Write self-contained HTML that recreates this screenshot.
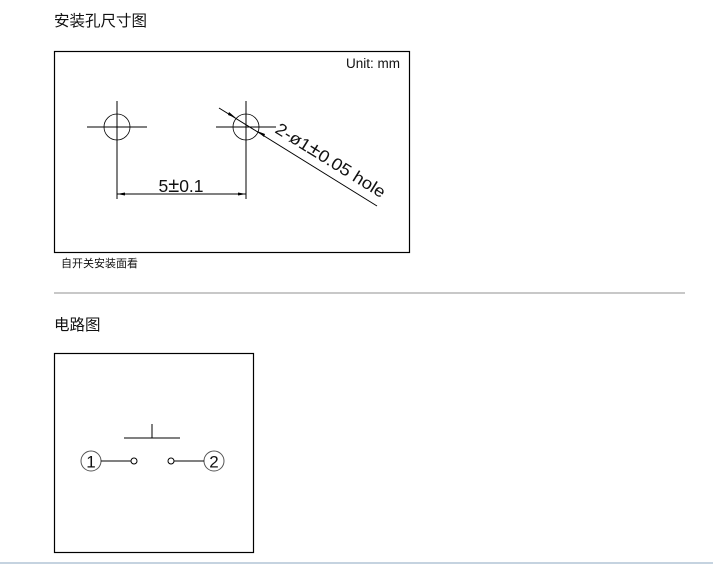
<!DOCTYPE html>
<html><head><meta charset="utf-8"><style>
html,body{margin:0;padding:0;background:#fff;width:713px;height:565px;overflow:hidden;position:relative}
.t{position:absolute;font-family:"Liberation Sans","Noto Sans CJK SC",sans-serif;color:#111;white-space:nowrap}
</style></head><body>
<div class="t" style="left:54px;top:12px;font-size:15.5px;line-height:20px">安装孔尺寸图</div>
<div class="t" style="left:61px;top:257px;font-size:11px;line-height:14px">自开关安装面看</div>
<div style="position:absolute;left:54px;top:292px;width:631px;height:2px;background:#c8c8c8"></div>
<div class="t" style="left:54px;top:316px;font-size:15.5px;line-height:20px">电路图</div>
<div style="position:absolute;left:0;top:562px;width:713px;height:2px;background:#c5d3e0"></div>
<svg width="713" height="565" style="position:absolute;left:0;top:0" xmlns="http://www.w3.org/2000/svg">
<g fill="none" stroke="#000">
<rect x="54.5" y="51.5" width="355" height="201" stroke-width="1.2"/>
<circle cx="117" cy="127" r="13" stroke-width="0.8"/>
<circle cx="246" cy="127" r="13" stroke-width="0.8"/>
<line x1="87" y1="127" x2="147" y2="127"/>
<line x1="117" y1="101" x2="117" y2="199"/>
<line x1="216" y1="127" x2="276" y2="127"/>
<line x1="246" y1="101" x2="246" y2="199"/>
<line x1="117" y1="194" x2="246" y2="194"/>
<line x1="219" y1="108" x2="377" y2="206"/>
<rect x="54.5" y="353.5" width="199" height="199" stroke-width="1.2"/>
<line x1="152" y1="424" x2="152" y2="438"/>
<line x1="124" y1="438" x2="180" y2="438"/>
<circle cx="91" cy="461" r="10" stroke="#555"/>
<circle cx="214" cy="461" r="10" stroke="#555"/>
<line x1="101" y1="461" x2="131" y2="461"/>
<circle cx="134" cy="461" r="3"/>
<circle cx="171" cy="461" r="3"/>
<line x1="174" y1="461" x2="204" y2="461"/>
</g>
<g fill="#000">
<polygon points="117,194 125,192.5 125,195.5"/>
<polygon points="246,194 238,192.5 238,195.5"/>
<polygon points="236,118 229,112 228,115"/>
<polygon points="257,131 264,137 265,134"/>
</g>
<g font-family="Liberation Sans, sans-serif" fill="#111">
<text x="346" y="68" font-size="13.5">Unit: mm</text>
<text x="181" y="192" font-size="17.5" text-anchor="middle">5<tspan font-size="20">±</tspan>0.1</text>
<text x="0" y="0" font-size="17" transform="translate(274,132) rotate(31.8)" textLength="126" lengthAdjust="spacingAndGlyphs">2-ø1<tspan font-size="20">±</tspan>0.05 hole</text>
<text x="91" y="467.5" font-size="17" text-anchor="middle">1</text>
<text x="214" y="467.5" font-size="17" text-anchor="middle">2</text>
</g>
</svg>
</body></html>
